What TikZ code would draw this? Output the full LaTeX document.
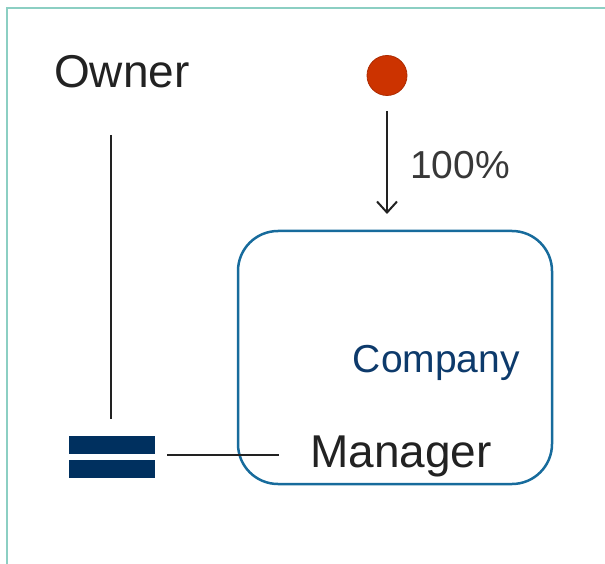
\documentclass[tikz,border=0pt]{standalone}
\usepackage{fontspec}
\setmainfont{Liberation Sans}
\usetikzlibrary{arrows.meta}
\definecolor{frameteal}{HTML}{8CCFC3}
\definecolor{boxblue}{HTML}{176B9C}
\definecolor{textnavy}{HTML}{0D3A6B}
\definecolor{barnavy}{HTML}{00305F}
\definecolor{dotred}{HTML}{CC3300}
\definecolor{inkdark}{HTML}{222222}
\tikzset{
  bigtext/.style={font=\fontsize{46}{46}\selectfont, text=inkdark, inner sep=0pt},
  midtext/.style={font=\fontsize{39}{39}\selectfont, inner sep=0pt},
  link/.style={draw=inkdark, line width=1.5pt},
  bar/.style={fill=barnavy, draw=none}
}

\begin{document}
\begin{tikzpicture}[x=1pt,y=-1pt]
			%%%%% START %%%%%
			\useasboundingbox (0,0) rectangle (605,564);
			
			\draw[frameteal, line width=2.2pt] (7,564) -- (7,8) -- (605,8);
			
			\draw[boxblue, line width=2.5pt, rounded corners=40pt] (238,231) rectangle (552,484);
			\node[midtext, text=textnavy, anchor=base east] (company) at (520,372) {Company};
			
			\node[bigtext, anchor=base west] (owner) at (54,88) {Owner};
			\coordinate (ownertop) at (111,135);
			\coordinate (ownerbot) at (111,419);
			\draw[link] (ownertop) -- (ownerbot);
			
			\draw[bar] (69,436) rectangle (155,454);
			\draw[bar] (69,460) rectangle (155,478);
			\coordinate (bars) at (167,455);
			
			\node[bigtext, anchor=base west] (manager) at (310,467) {Manager};
			\coordinate (managerin) at (279,455);
			\draw[link] (bars) -- (managerin);
			
			\node[circle, fill=dotred, draw=dotred!85!black, line width=0.8pt, minimum size=40pt, inner sep=0pt] (dot) at (387,75.5) {};
			\coordinate (arrowend) at (387,214);
			\draw[link, line width=2pt, -{Straight Barb[length=11pt, width=20pt, line width=2pt]}] (387,111) -- (arrowend);
			\node[midtext, text=inkdark!90, anchor=base west] (share) at (410,179) {100\%};
			
			%%%%% END %%%%%
		\end{tikzpicture}
\end{document}
